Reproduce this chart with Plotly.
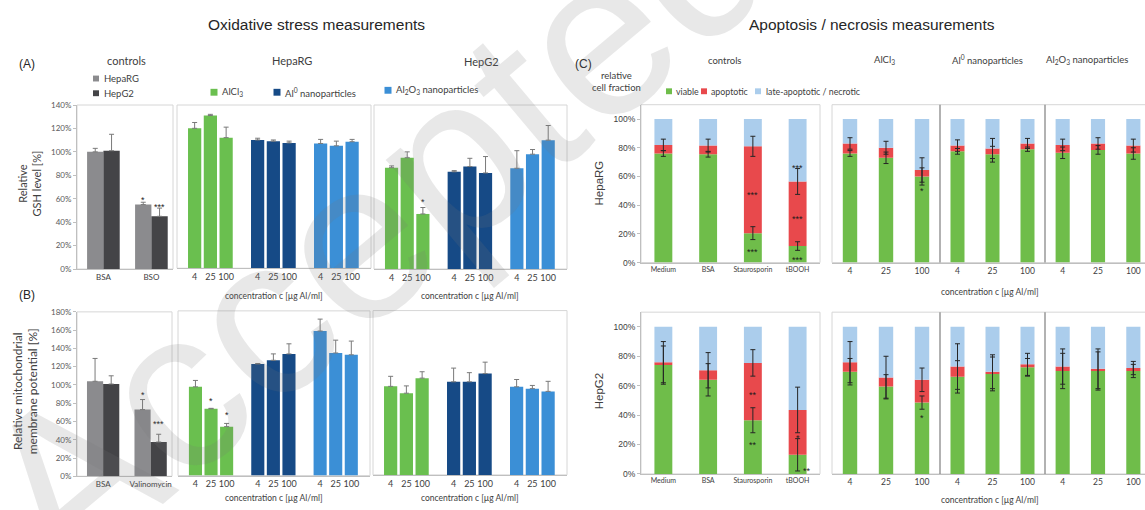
import plotly.graph_objects as go

# ------------------------------------------------------------------
# data
# ------------------------------------------------------------------
conc_labels = ["4", "25", "100"]

# (A) relative GSH level [%]
gsh_ctrl_labels = ["BSA", "BSO"]
gsh_ctrl_heparg = [100, 55]
gsh_ctrl_heparg_err = [3, 2]
gsh_ctrl_hepg2 = [101, 45]
gsh_ctrl_hepg2_err = [14, 7]

gsh_heparg_alcl3 = [120, 131, 112]
gsh_heparg_alcl3_err = [5, 1, 9]
gsh_heparg_al0 = [110, 109, 107.5]
gsh_heparg_al0_err = [1.5, 1, 1.5]
gsh_heparg_al2o3 = [107, 105, 108.5]
gsh_heparg_al2o3_err = [3.5, 4, 2]

gsh_hepg2_alcl3 = [86.5, 95, 47]
gsh_hepg2_alcl3_err = [1.5, 5, 5.5]
gsh_hepg2_al0 = [83, 87.5, 82]
gsh_hepg2_al0_err = [1, 7, 14]
gsh_hepg2_al2o3 = [86, 98, 110]
gsh_hepg2_al2o3_err = [15, 4, 12.5]

# (B) relative mitochondrial membrane potential [%]
mmp_ctrl_labels = ["BSA", "Valinomycin"]
mmp_ctrl_heparg = [104, 73]
mmp_ctrl_heparg_err = [25, 11]
mmp_ctrl_hepg2 = [101, 37.5]
mmp_ctrl_hepg2_err = [9, 8.5]

mmp_heparg_alcl3 = [97, 73, 53.5]
mmp_heparg_alcl3_err = [7, 0.5, 3.5]
mmp_heparg_al0 = [122, 126, 133]
mmp_heparg_al0_err = [0.5, 7, 11]
mmp_heparg_al2o3 = [158, 134, 132]
mmp_heparg_al2o3_err = [13, 14, 15]

mmp_hepg2_alcl3 = [97, 89.5, 106]
mmp_hepg2_alcl3_err = [11, 8, 7]
mmp_hepg2_al0 = [102, 102, 111]
mmp_hepg2_al0_err = [15, 10, 12.5]
mmp_hepg2_al2o3 = [96.5, 94.5, 91.5]
mmp_hepg2_al2o3_err = [8, 3.5, 11]

# (C) relative cell fraction [%]
apo_ctrl_labels = ["Medium", "BSA", "Staurosporin", "tBOOH"]

rg_ctrl_viable = [76, 75.5, 20.5, 11.5]
rg_ctrl_apoptotic = [6, 6, 60.5, 45]
rg_ctrl_viable_err = [2, 2, 4.5, 3]
rg_ctrl_apoptotic_err = [4, 4.5, 7, 9]
rg_alcl3_viable = [76, 73, 60]
rg_alcl3_apoptotic = [7, 7, 4.5]
rg_alcl3_viable_err = [2, 4, 6]
rg_alcl3_apoptotic_err = [4, 4.5, 8.5]
rg_al0_viable = [77.5, 75.5, 79]
rg_al0_apoptotic = [4, 4, 4]
rg_al0_viable_err = [2, 5.5, 1.5]
rg_al0_apoptotic_err = [4, 7, 3.5]
rg_al2o3_viable = [76.5, 78.5, 76]
rg_al2o3_apoptotic = [5.5, 4.5, 5.5]
rg_al2o3_viable_err = [4, 3, 4]
rg_al2o3_apoptotic_err = [4, 4, 4.5]

g2_ctrl_viable = [74, 64, 36.5, 13]
g2_ctrl_apoptotic = [2, 6.5, 39, 30.5]
g2_ctrl_viable_err = [13, 11, 8.5, 11]
g2_ctrl_apoptotic_err = [14, 12, 9, 15.5]
g2_alcl3_viable = [69.5, 59.5, 48.5]
g2_alcl3_apoptotic = [6.5, 6, 15.5]
g2_alcl3_viable_err = [9, 8, 4.5]
g2_alcl3_apoptotic_err = [14, 14.5, 8]
g2_al0_viable = [66, 68, 72.5]
g2_al0_apoptotic = [7, 1.5, 2]
g2_al0_viable_err = [11, 11.5, 6]
g2_al0_apoptotic_err = [15.5, 11.5, 7.5]
g2_al2o3_viable = [70, 70, 70]
g2_al2o3_apoptotic = [3, 1.5, 2]
g2_al2o3_viable_err = [12, 13, 4.5]
g2_al2o3_apoptotic_err = [12, 13.5, 4.5]

# significance marks: (subplot, x, y, text)
significance = [
    (1, 0.83, 61, "*"), (1, 1.17, 55, "***"),
    (3, 2, 59, "*"),
    (4, 0.83, 91, "*"), (4, 1.17, 59, "***"),
    (5, 1, 84, "*"), (5, 2, 68, "*"),
    (7, 2, 48.5, "***"), (7, 2, 8.5, "***"),
    (7, 3, 67.5, "***"), (7, 3, 32, "***"), (7, 3, 3, "***"),
    (8, 2, 51, "*"),
    (11, 2, 55, "**"), (11, 2, 21, "**"),
    (11, 3, 26, "*"), (11, 3.2, 3.5, "**"),
    (12, 2, 39.5, "*"),
]

# ------------------------------------------------------------------
# styling
# ------------------------------------------------------------------
W, H = 1145, 510
GRAY_RG = "#8b8b8e"
GRAY_G2 = "#444447"
GREEN = "#6abf4f"
NAVY = "#164a86"
SKY = "#3b8fd6"
C_GREEN = "#6fbd4a"
C_RED = "#e8494c"
C_BLUE = "#abcdec"
TXT = "#404040"
BOX = "#d6d6d6"
AXL = "#bfbfbf"
XL = "Lato, Carlito, Calibri, sans-serif"
AR = "Liberation Sans, Arial, sans-serif"

fig = go.Figure()
layout_axes = {}
shapes = []
annotations = []


def names(n):
    s = "" if n == 1 else str(n)
    return "x" + s, "y" + s, "xaxis" + s, "yaxis" + s


def make_axes(n, box, xrange, yrange, xtickvals, xticktext, xfont,
              ytickvals=None, yticktext=None, yfont=None, draw_box=True):
    xr, yr, xk, yk = names(n)
    x0, y0, x1, y1 = box
    layout_axes[xk] = dict(
        domain=[max(0.0, x0 / W), min(1.0, x1 / W)], range=xrange, anchor=yr,
        tickmode="array", tickvals=xtickvals, ticktext=xticktext, tickfont=xfont,
        showline=True, linecolor=AXL, linewidth=1, ticks="", showgrid=False,
        zeroline=False, fixedrange=True)
    yd = dict(domain=[1 - y1 / H, 1 - y0 / H], range=yrange, anchor=xr,
              showgrid=False, zeroline=False, fixedrange=True)
    if ytickvals is not None:
        yd.update(tickmode="array", tickvals=ytickvals, ticktext=yticktext,
                  tickfont=yfont, showline=True, linecolor=AXL, linewidth=1,
                  ticks="outside", ticklen=3, tickcolor=AXL)
    else:
        yd.update(showticklabels=False, ticks="")
    layout_axes[yk] = yd
    if draw_box:
        shapes.append(dict(type="rect", xref="paper", yref="paper",
                           x0=x0 / W, x1=x1 / W, y0=1 - y1 / H, y1=1 - y0 / H,
                           line=dict(color=BOX, width=1), layer="below"))


def err(arr, color="#7a7a7a"):
    return dict(type="data", symmetric=False, array=arr,
                arrayminus=[0] * len(arr), color=color, thickness=1, width=2.5)


def control_bars(n, heparg, heparg_err, hepg2, hepg2_err):
    xr, yr, _, _ = names(n)
    cats = list(range(len(heparg)))
    fig.add_trace(go.Bar(x=[c - 0.17 for c in cats], y=heparg, width=0.34,
                         marker=dict(color=GRAY_RG, line=dict(width=0)),
                         error_y=err(heparg_err), xaxis=xr, yaxis=yr))
    fig.add_trace(go.Bar(x=[c + 0.17 for c in cats], y=hepg2, width=0.34,
                         marker=dict(color=GRAY_G2, line=dict(width=0)),
                         error_y=err(hepg2_err), xaxis=xr, yaxis=yr))


def treatment_bars(n, groups):
    xr, yr, _, _ = names(n)
    for g, (vals, errs, col) in enumerate(groups):
        xs = [4 * g + i for i in range(len(vals))]
        fig.add_trace(go.Bar(x=xs, y=vals, width=0.84,
                             marker=dict(color=col, line=dict(width=0)),
                             error_y=err(errs), xaxis=xr, yaxis=yr))


def stacked(n, viable, apoptotic, v_err, a_err):
    xr, yr, _, _ = names(n)
    xs = list(range(len(viable)))
    tops = [v + a for v, a in zip(viable, apoptotic)]
    rest = [100 - t for t in tops]
    for ys, base, col in ((viable, None, C_GREEN), (apoptotic, viable, C_RED),
                          (rest, tops, C_BLUE)):
        fig.add_trace(go.Bar(x=xs, y=ys, base=base, width=0.4,
                             marker=dict(color=col, line=dict(width=0)),
                             xaxis=xr, yaxis=yr))
    for ys, es in ((viable, v_err), (tops, a_err)):
        fig.add_trace(go.Scatter(
            x=xs, y=ys, mode="markers", marker=dict(color="rgba(0,0,0,0)", size=2),
            error_y=dict(type="data", array=es, color="#262626", thickness=1, width=2.5),
            xaxis=xr, yaxis=yr))


# ------------------------------------------------------------------
# (A) and (B): oxidative stress
# ------------------------------------------------------------------
yfont_ex = dict(family=XL, size=8, color="#595959")
xfont_ex = dict(family=XL, size=9, color=TXT)
xfont_cat = dict(family=XL, size=8, color=TXT)
treat_ticks = [4 * g + i for g in range(3) for i in range(3)]
treat_text = conc_labels * 3
treat_range = [-1.12, 11.2]

gsh_ticks = list(range(0, 141, 20))
make_axes(1, (77, 102, 173, 269.3), [-0.55, 1.45], [0, 140], [0, 1], gsh_ctrl_labels,
          xfont_cat, gsh_ticks, [f"{t}%" for t in gsh_ticks], yfont_ex)
make_axes(2, (177, 102, 371, 268.5), treat_range, [0, 140], treat_ticks, treat_text, xfont_ex)
make_axes(3, (374, 102, 567, 269.3), treat_range, [0, 140], treat_ticks, treat_text, xfont_ex)

mmp_ticks = list(range(0, 181, 20))
make_axes(4, (77, 313, 172, 480.7), [-0.55, 1.45], [0, 180], [0, 1], mmp_ctrl_labels,
          xfont_cat, mmp_ticks, [f"{t}%" for t in mmp_ticks], yfont_ex)
make_axes(5, (178, 312, 370, 480), treat_range, [0, 180], treat_ticks, treat_text, xfont_ex)
make_axes(6, (373, 311.7, 567, 479.3), treat_range, [0, 180], treat_ticks, treat_text, xfont_ex)

control_bars(1, gsh_ctrl_heparg, gsh_ctrl_heparg_err, gsh_ctrl_hepg2, gsh_ctrl_hepg2_err)
treatment_bars(2, [(gsh_heparg_alcl3, gsh_heparg_alcl3_err, GREEN),
                   (gsh_heparg_al0, gsh_heparg_al0_err, NAVY),
                   (gsh_heparg_al2o3, gsh_heparg_al2o3_err, SKY)])
treatment_bars(3, [(gsh_hepg2_alcl3, gsh_hepg2_alcl3_err, GREEN),
                   (gsh_hepg2_al0, gsh_hepg2_al0_err, NAVY),
                   (gsh_hepg2_al2o3, gsh_hepg2_al2o3_err, SKY)])
control_bars(4, mmp_ctrl_heparg, mmp_ctrl_heparg_err, mmp_ctrl_hepg2, mmp_ctrl_hepg2_err)
treatment_bars(5, [(mmp_heparg_alcl3, mmp_heparg_alcl3_err, GREEN),
                   (mmp_heparg_al0, mmp_heparg_al0_err, NAVY),
                   (mmp_heparg_al2o3, mmp_heparg_al2o3_err, SKY)])
treatment_bars(6, [(mmp_hepg2_alcl3, mmp_hepg2_alcl3_err, GREEN),
                   (mmp_hepg2_al0, mmp_hepg2_al0_err, NAVY),
                   (mmp_hepg2_al2o3, mmp_hepg2_al2o3_err, SKY)])

# ------------------------------------------------------------------
# (C): apoptosis / necrosis
# ------------------------------------------------------------------
c_yfont = dict(family=AR, size=8.5, color=TXT)
c_xfont = dict(family=XL, size=7, color=TXT)
c_xfont2 = dict(family=XL, size=8.5, color=TXT)
c_ticks = list(range(0, 101, 20))
c_ticktext = [f"{t}%" for t in c_ticks]

for row, (top, bot) in enumerate(((101.7, 262.7), (313.3, 478.3))):
    base = 7 + 4 * row
    make_axes(base, (641, top, 820, bot), [-0.5, 3.5], [0, 110], [0, 1, 2, 3],
              apo_ctrl_labels, c_xfont, c_ticks, c_ticktext, c_yfont)
    make_axes(base + 1, (832, top, 940, bot), [-0.5, 2.5], [0, 110], [0, 1, 2],
              conc_labels, c_xfont2, draw_box=False)
    make_axes(base + 2, (940, top, 1045, bot), [-0.5, 2.5], [0, 110], [0, 1, 2],
              conc_labels, c_xfont2, draw_box=False)
    make_axes(base + 3, (1045, top, 1145, bot), [-0.5, 2.33], [0, 110], [0, 1, 2],
              conc_labels, c_xfont2, draw_box=False)
    shapes.append(dict(type="rect", xref="paper", yref="paper",
                       x0=832 / W, x1=1150 / W, y0=1 - bot / H, y1=1 - top / H,
                       line=dict(color=BOX, width=1), layer="below"))
    for sx in (940, 1045):
        shapes.append(dict(type="line", xref="paper", yref="paper",
                           x0=sx / W, x1=sx / W, y0=1 - bot / H, y1=1 - top / H,
                           line=dict(color="#7f7f7f", width=1.2)))

stacked(7, rg_ctrl_viable, rg_ctrl_apoptotic, rg_ctrl_viable_err, rg_ctrl_apoptotic_err)
stacked(8, rg_alcl3_viable, rg_alcl3_apoptotic, rg_alcl3_viable_err, rg_alcl3_apoptotic_err)
stacked(9, rg_al0_viable, rg_al0_apoptotic, rg_al0_viable_err, rg_al0_apoptotic_err)
stacked(10, rg_al2o3_viable, rg_al2o3_apoptotic, rg_al2o3_viable_err, rg_al2o3_apoptotic_err)
stacked(11, g2_ctrl_viable, g2_ctrl_apoptotic, g2_ctrl_viable_err, g2_ctrl_apoptotic_err)
stacked(12, g2_alcl3_viable, g2_alcl3_apoptotic, g2_alcl3_viable_err, g2_alcl3_apoptotic_err)
stacked(13, g2_al0_viable, g2_al0_apoptotic, g2_al0_viable_err, g2_al0_apoptotic_err)
stacked(14, g2_al2o3_viable, g2_al2o3_apoptotic, g2_al2o3_viable_err, g2_al2o3_apoptotic_err)

# significance marks
for n, x, y, t in significance:
    xr, yr, _, _ = names(n)
    annotations.append(dict(x=x, y=y, xref=xr, yref=yr, text=t, showarrow=False,
                            font=dict(family=AR, size=9, color="#1a1a1a"),
                            xanchor="center", yanchor="middle", yshift=-2))


# ------------------------------------------------------------------
# titles, labels and legends
# ------------------------------------------------------------------
def label(x, y, text, size, family=XL, color=TXT, angle=0, xanchor="center", align="center"):
    annotations.append(dict(x=x / W, y=1 - y / H, xref="paper", yref="paper", text=text,
                            showarrow=False, textangle=angle, xanchor=xanchor,
                            yanchor="middle", align=align,
                            font=dict(family=family, size=size, color=color)))


def swatch(x, y, color, s=6):
    shapes.append(dict(type="rect", xref="paper", yref="paper",
                       x0=(x - s / 2) / W, x1=(x + s / 2) / W,
                       y0=1 - (y + s / 2) / H, y1=1 - (y - s / 2) / H,
                       fillcolor=color, line=dict(width=0)))


label(316, 20, "Oxidative stress measurements", 15.5, AR, "#262626")
label(872, 20, "Apoptosis / necrosis measurements", 15.5, AR, "#262626")
label(27, 60, "(A)", 12, AR, "#262626")
label(27, 296, "(B)", 12, AR, "#262626")
label(583, 60, "(C)", 12, AR, "#262626")

label(126, 57, "controls", 11)
label(292, 57, "HepaRG", 11)
label(481, 58, "HepG2", 11)

swatch(96, 75, GRAY_RG)
label(102, 75, "HepaRG", 9.5, xanchor="left")
swatch(96, 90, GRAY_G2)
label(102, 90, "HepG2", 9.5, xanchor="left")
swatch(214, 89, GREEN, 7)
label(220, 89, "AlCl<sub>3</sub>", 9.5, xanchor="left")
swatch(277, 89, NAVY, 7)
label(283, 89, "Al<sup>0</sup> nanoparticles", 9.5, xanchor="left")
swatch(388, 87, SKY, 7)
label(394, 87, "Al<sub>2</sub>O<sub>3</sub> nanoparticles", 9.5, xanchor="left")

label(29, 182, "Relative<br>GSH level [%]", 11, angle=-90)
label(25, 394, "Relative mitochondrial<br>membrane potential [%]", 12, angle=-90)

for cx, cy in ((274, 297), (470, 297), (274, 503), (470, 503)):
    label(cx, cy, "concentration c [µg Al/ml]", 8.5)

# panel C texts
label(724, 57, "controls", 9.5)
label(884, 56, "AlCl<sub>3</sub>", 9.5)
label(987, 56, "Al<sup>0</sup> nanoparticles", 9.5)
label(1087, 56, "Al<sub>2</sub>O<sub>3</sub> nanoparticles", 9.5)
label(616, 78, "relative<br>cell fraction", 9.5)
swatch(669, 88, C_GREEN)
label(674, 88, "viable", 8.8, xanchor="left")
swatch(704, 88, C_RED)
label(709, 88, "apoptotic", 8.8, xanchor="left")
swatch(758, 88, C_BLUE)
label(764, 88, "late-apoptotic / necrotic", 8.8, xanchor="left")
label(599, 182, "HepaRG", 11.5, AR, angle=-90)
label(599, 394, "HepG2", 11.5, AR, angle=-90)
label(990, 293, "concentration c [µg Al/ml]", 8.5)
label(990, 505, "concentration c [µg Al/ml]", 8.5)

# publisher watermark across the figure
annotations.append(dict(x=828 / W, y=1 + 165 / H, xref="paper", yref="paper",
                        text="Accepted manuscript", showarrow=False, textangle=-40,
                        xanchor="center", yanchor="middle",
                        font=dict(family=AR, size=228, color="rgba(120,120,120,0.17)")))

fig.update_layout(
    width=W, height=H, margin=dict(l=0, r=0, t=0, b=0),
    paper_bgcolor="white", plot_bgcolor="rgba(0,0,0,0)",
    barmode="overlay", showlegend=False,
    shapes=shapes, annotations=annotations, **layout_axes)

fig.write_html("out.html")
